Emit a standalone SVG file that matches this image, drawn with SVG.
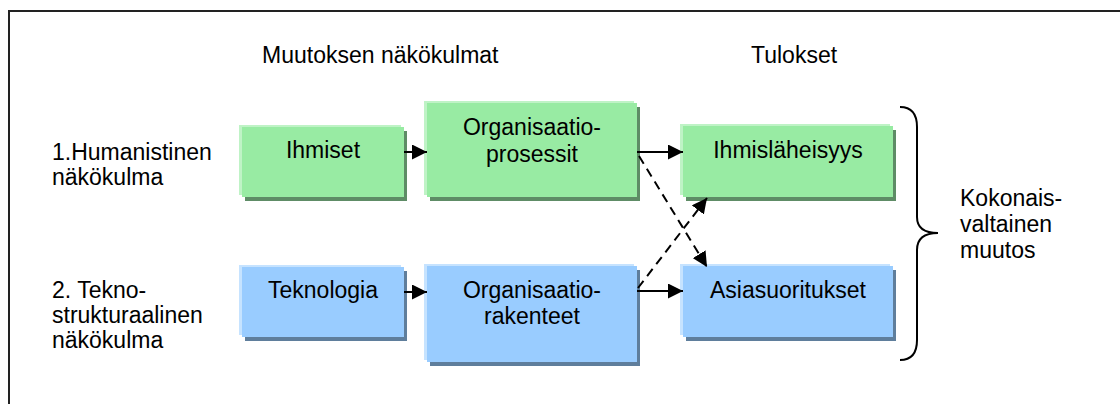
<svg xmlns="http://www.w3.org/2000/svg" width="1120" height="404" viewBox="0 0 1120 404">
  <style>
    text { font-family: "Liberation Sans", Arial, sans-serif; font-size: 23px; fill: #000; }
    .mid { text-anchor: middle; }
    .g .hi { fill: #bff3c6; }
    .g .sh { fill: #5e8c66; }
    .g .body { fill: #98eba3; }
    .b .hi { fill: #c6e3ff; }
    .b .sh { fill: #5f7e9c; }
    .b .body { fill: #99ccff; }
    .solid { stroke: #000; stroke-width: 2; fill: none; }
    .dash { stroke: #000; stroke-width: 2; fill: none; stroke-dasharray: 9 6; }
  </style>
  <defs>
    <marker id="head" viewBox="0 0 10 10" refX="10" refY="5" markerWidth="7.5" markerHeight="7.5" orient="auto" markerUnits="strokeWidth">
      <path d="M0,0 L10,5 L0,10 z" fill="#000"/>
    </marker>
  </defs>

  <rect x="0" y="0" width="1120" height="404" fill="#fff"/>
  <!-- frame: top and left edges -->
  <path d="M9,404 L9,11 L1120,11" fill="none" stroke="#222" stroke-width="2"/>

  <!-- column headings -->
  <g id="headings">
    <text x="262" y="63">Muutoksen näkökulmat</text>
    <text x="751" y="63">Tulokset</text>
  </g>

  <!-- row labels -->
  <g id="row1-label">
    <text x="52" y="160">1.Humanistinen</text>
    <text x="52" y="185">näkökulma</text>
  </g>
  <g id="row2-label">
    <text x="52" y="298">2. Tekno-</text>
    <text x="52" y="323">strukturaalinen</text>
    <text x="52" y="348">näkökulma</text>
  </g>

  <!-- green row -->
  <g id="ihmiset" class="g">
    <rect class="hi" x="239" y="125" width="162" height="70"/>
    <rect class="sh" x="245" y="131" width="162" height="70"/>
    <rect class="body" x="242" y="127" width="162" height="70"/>
    <text class="mid" x="323" y="158">Ihmiset</text>
  </g>
  <g id="org-prosessit" class="g">
    <rect class="hi" x="424" y="101" width="210" height="94"/>
    <rect class="sh" x="430" y="107" width="210" height="94"/>
    <rect class="body" x="427" y="103" width="210" height="94"/>
    <text class="mid" x="532" y="135">Organisaatio-</text>
    <text class="mid" x="532" y="162">prosessit</text>
  </g>
  <g id="ihmislaheisyys" class="g">
    <rect class="hi" x="680" y="124" width="210" height="71"/>
    <rect class="sh" x="686" y="130" width="210" height="71"/>
    <rect class="body" x="683" y="126" width="210" height="71"/>
    <text class="mid" x="788" y="158">Ihmisläheisyys</text>
  </g>

  <!-- blue row -->
  <g id="teknologia" class="b">
    <rect class="hi" x="239" y="265" width="162" height="70"/>
    <rect class="sh" x="245" y="271" width="162" height="70"/>
    <rect class="body" x="242" y="267" width="162" height="70"/>
    <text class="mid" x="323" y="298">Teknologia</text>
  </g>
  <g id="org-rakenteet" class="b">
    <rect class="hi" x="424" y="264" width="210" height="96"/>
    <rect class="sh" x="430" y="270" width="210" height="96"/>
    <rect class="body" x="427" y="266" width="210" height="96"/>
    <text class="mid" x="532" y="298">Organisaatio-</text>
    <text class="mid" x="532" y="324">rakenteet</text>
  </g>
  <g id="asiasuoritukset" class="b">
    <rect class="hi" x="680" y="264" width="210" height="71"/>
    <rect class="sh" x="686" y="270" width="210" height="71"/>
    <rect class="body" x="683" y="266" width="210" height="71"/>
    <text class="mid" x="788" y="298">Asiasuoritukset</text>
  </g>

  <!-- connectors -->
  <g id="connectors">
    <line class="solid" x1="404" y1="152" x2="427" y2="152" marker-end="url(#head)"/>
    <line class="solid" x1="404" y1="292" x2="427" y2="292" marker-end="url(#head)"/>
    <line class="solid" x1="637" y1="152" x2="683" y2="152" marker-end="url(#head)"/>
    <line class="solid" x1="637" y1="291" x2="683" y2="291" marker-end="url(#head)"/>
    <line class="dash" x1="639" y1="156" x2="707" y2="267" marker-end="url(#head)"/>
    <line class="dash" x1="638" y1="288" x2="707" y2="198" marker-end="url(#head)"/>
  </g>

  <!-- brace and outcome label -->
  <g id="brace">
    <path class="solid" d="M900,107 Q917,107 917,127 L917,217 Q917,233 938,233 Q917,233 917,250 L917,340 Q917,360 900,360"/>
  </g>
  <g id="kokonaisvaltainen">
    <text x="960" y="206">Kokonais-</text>
    <text x="960" y="232">valtainen</text>
    <text x="960" y="258">muutos</text>
  </g>
</svg>
